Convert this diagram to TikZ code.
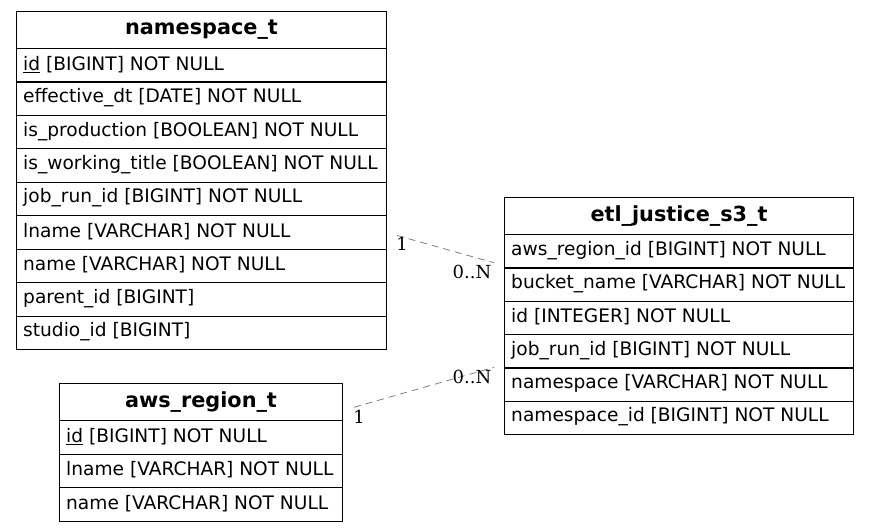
\documentclass[tikz,border=0pt]{standalone}
\usepackage{fontspec}
\setmainfont{DejaVu Sans}
\newfontfamily\lblfont{DejaVu Serif}
\usetikzlibrary{calc}
\tikzset{
  hdr/.style={draw=black, line width=1pt, minimum height=37pt, inner sep=0pt, anchor=north west},
  hdrtxt/.style={inner sep=0pt, font=\fontsize{20.8}{23}\selectfont\bfseries},
  rowbox/.style={draw=black, line width=1pt, minimum height=33.5pt, inner sep=0pt, anchor=north west},
  rowtxt/.style={anchor=west, inner sep=0pt, font=\fontsize{18.6}{21}\selectfont},
  rel/.style={draw=gray, dash pattern=on 7pt off 5pt, line width=0.8pt},
  card/.style={font=\lblfont\fontsize{18}{20}\selectfont, inner sep=0pt}
}
\begin{document}
\begin{tikzpicture}[x=1pt,y=-1pt]
\useasboundingbox (0,0) rectangle (869,531);
% namespace_t
\node[hdr, minimum width=370pt] (ns) at (16,11) {};
\node[hdrtxt] (nsT) at (ns.center) {namespace\_t};
\foreach \i/\t [count=\k] in {0/{\underline{id} [BIGINT] NOT NULL},1/{effective\_dt [DATE] NOT NULL},2/{is\_production [BOOLEAN] NOT NULL},3/{is\_working\_title [BOOLEAN] NOT NULL},4/{job\_run\_id [BIGINT] NOT NULL},5/{lname [VARCHAR] NOT NULL},6/{name [VARCHAR] NOT NULL},7/{parent\_id [BIGINT]},8/{studio\_id [BIGINT]}}{
  \node[rowbox, minimum width=370pt] (ns\k) at (16,48+33.444*\i) {};
  \node[rowtxt] (ns\k t) at ($(ns\k.west)+(7,-1)$) {\t};
}
% aws_region_t
\node[hdr, minimum width=283pt] (aw) at (59,383) {};
\node[hdrtxt] (awT) at (aw.center) {aws\_region\_t};
\foreach \i/\t [count=\k] in {0/{\underline{id} [BIGINT] NOT NULL},1/{lname [VARCHAR] NOT NULL},2/{name [VARCHAR] NOT NULL}}{
  \node[rowbox, minimum width=283pt] (aw\k) at (59,420+33.667*\i) {};
  \node[rowtxt] (aw\k t) at ($(aw\k.west)+(7,-1)$) {\t};
}
% etl_justice_s3_t
\node[hdr, minimum width=349pt] (et) at (504,197) {};
\node[hdrtxt] (etT) at (et.center) {etl\_justice\_s3\_t};
\foreach \i/\t [count=\k] in {0/{aws\_region\_id [BIGINT] NOT NULL},1/{bucket\_name [VARCHAR] NOT NULL},2/{id [INTEGER] NOT NULL},3/{job\_run\_id [BIGINT] NOT NULL},4/{namespace [VARCHAR] NOT NULL},5/{namespace\_id [BIGINT] NOT NULL}}{
  \node[rowbox, minimum width=349pt] (et\k) at (504,234+33.333*\i) {};
  \node[rowtxt] (et\k t) at ($(et\k.west)+(7,-1)$) {\t};
}
% relations
\coordinate (r1a) at ($(ns6.east)+(10,3)$);
\coordinate (r1b) at ($(et1.west)+(-10,11.5)$);
\draw[rel] (r1a) -- (r1b);
\node[card] (c1a) at ($(r1a)+(5,8)$) {1};
\node[card] (c1b) at ($(r1b)+(-22,9)$) {0..N};
\coordinate (r2a) at ($(aw1.east)+(11,-30)$);
\coordinate (r2b) at ($(et5.north west)+(-10,0)$);
\draw[rel] (r2a) -- (r2b);
\node[card] (c2a) at ($(r2a)+(5,10)$) {1};
\node[card] (c2b) at ($(r2b)+(-22,9.5)$) {0..N};
\end{tikzpicture}
\end{document}
